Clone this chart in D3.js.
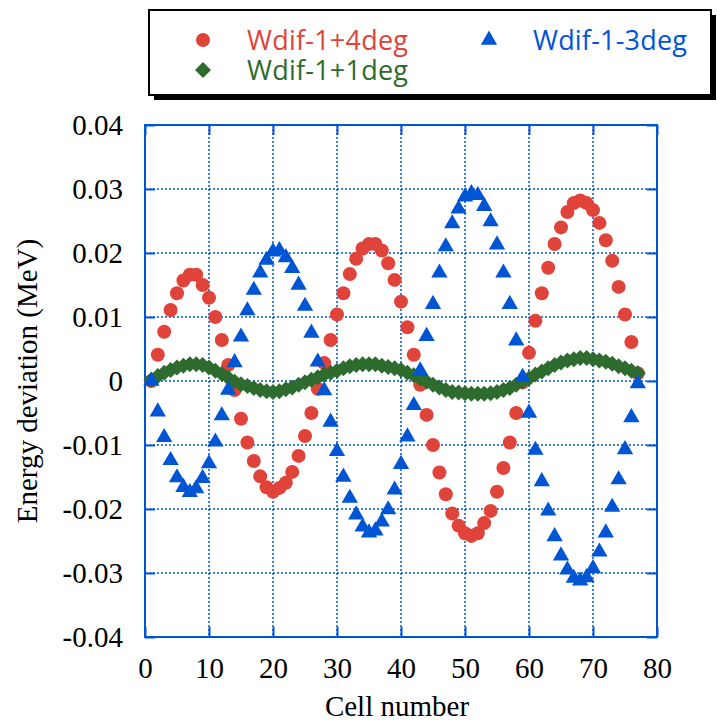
<!DOCTYPE html>
<html><head><meta charset="utf-8">
<script src="https://cdn.jsdelivr.net/npm/d3@7/dist/d3.min.js"></script>
<style>body{margin:0;background:#fff}svg{display:block}</style>
</head><body>
<svg id="c" width="717" height="722"></svg>
<script>
const cells = [1,2,3,4,5,6,7,8,9,10,11,12,13,14,15,16,17,18,19,20,21,22,23,24,25,26,27,28,29,30,31,32,33,34,35,36,37,38,39,40,41,42,43,44,45,46,47,48,49,50,51,52,53,54,55,56,57,58,59,60,61,62,63,64,65,66,67,68,69,70,71,72,73,74,75,76,77];
const plus4 = [0.0000,0.0041,0.0077,0.0111,0.0137,0.0157,0.0166,0.0166,0.0150,0.0130,0.0100,0.0064,0.0025,-0.0014,-0.0059,-0.0096,-0.0125,-0.0149,-0.0166,-0.0173,-0.0167,-0.0159,-0.0142,-0.0117,-0.0086,-0.0050,-0.0012,0.0028,0.0064,0.0104,0.0137,0.0167,0.0191,0.0207,0.0214,0.0214,0.0204,0.0184,0.0158,0.0124,0.0084,0.0041,-0.0006,-0.0053,-0.0100,-0.0143,-0.0177,-0.0207,-0.0226,-0.0238,-0.0242,-0.0238,-0.0222,-0.0203,-0.0173,-0.0136,-0.0096,-0.0050,-0.0002,0.0044,0.0094,0.0137,0.0177,0.0214,0.0240,0.0264,0.0278,0.0282,0.0278,0.0267,0.0247,0.0220,0.0188,0.0147,0.0104,0.0061,0.0012];
const plus1 = [0.0002,0.0008,0.0013,0.0017,0.0021,0.0024,0.0026,0.0026,0.0025,0.0021,0.0016,0.0011,0.0005,-0.0001,-0.0005,-0.0008,-0.0011,-0.0014,-0.0016,-0.0017,-0.0016,-0.0013,-0.0010,-0.0006,-0.0002,0.0002,0.0006,0.0010,0.0013,0.0016,0.0020,0.0023,0.0025,0.0026,0.0026,0.0026,0.0024,0.0022,0.0020,0.0017,0.0013,0.0009,0.0004,-0.0001,-0.0006,-0.0010,-0.0014,-0.0017,-0.0018,-0.0019,-0.0020,-0.0020,-0.0020,-0.0019,-0.0017,-0.0014,-0.0011,-0.0006,-0.0001,0.0004,0.0010,0.0015,0.0020,0.0025,0.0029,0.0032,0.0034,0.0036,0.0036,0.0034,0.0032,0.0030,0.0027,0.0023,0.0020,0.0016,0.0012];
const minus3 = [0.0000,-0.0048,-0.0088,-0.0124,-0.0151,-0.0166,-0.0174,-0.0168,-0.0152,-0.0129,-0.0095,-0.0054,-0.0014,0.0029,0.0069,0.0110,0.0142,0.0169,0.0189,0.0202,0.0204,0.0193,0.0176,0.0150,0.0117,0.0075,0.0030,-0.0015,-0.0064,-0.0110,-0.0150,-0.0183,-0.0209,-0.0228,-0.0237,-0.0234,-0.0220,-0.0201,-0.0170,-0.0130,-0.0087,-0.0038,0.0016,0.0070,0.0120,0.0169,0.0210,0.0246,0.0269,0.0288,0.0293,0.0290,0.0273,0.0249,0.0213,0.0169,0.0120,0.0063,0.0006,-0.0050,-0.0108,-0.0157,-0.0203,-0.0243,-0.0273,-0.0295,-0.0308,-0.0312,-0.0307,-0.0293,-0.0267,-0.0237,-0.0197,-0.0154,-0.0107,-0.0057,-0.0004];
const seriesNames = ["Wdif-1+4deg","Wdif-1+1deg","Wdif-1-3deg"];
const xTicks = [0,10,20,30,40,50,60,70,80];
const yTicks = [-0.04,-0.03,-0.02,-0.01,0,0.01,0.02,0.03,0.04];
const yTickLabels = ["-0.04","-0.03","-0.02","-0.01","0","0.01","0.02","0.03","0.04"];
const xTitle = "Cell number";
const yTitle = "Energy deviation (MeV)";

const RED = "#e0433a", GREEN = "#2e6b2e", BLUE = "#0055d4", AX = "#0055d4";
const L = 145, R = 657, T = 125, B = 637;
const svg = d3.select("#c");
const x = d3.scaleLinear().domain([0, 80]).range([L, R]);
const y = d3.scaleLinear().domain([-0.04, 0.04]).range([B, T]);

// grid
const grid = svg.append("g");
grid.selectAll(".gx").data(xTicks.slice(1, -1)).join("line")
  .attr("x1", d => x(d)).attr("x2", d => x(d)).attr("y1", T).attr("y2", B)
  .attr("stroke", AX).attr("stroke-width", 1.5).attr("stroke-dasharray", "2,2");
grid.selectAll(".gy").data(yTicks.slice(1, -1)).join("line")
  .attr("y1", d => y(d)).attr("y2", d => y(d)).attr("x1", L).attr("x2", R)
  .attr("stroke", AX).attr("stroke-width", 1.5).attr("stroke-dasharray", "2,2");

// axes with inward ticks on all sides
const tk = 10;
const fmtY = (d) => yTickLabels[yTicks.indexOf(d)];
const axB = svg.append("g").attr("transform", `translate(0,${B})`)
  .call(d3.axisBottom(x).tickValues(xTicks).tickSize(-tk).tickPadding(20).tickFormat(d3.format("d")));
const axT = svg.append("g").attr("transform", `translate(0,${T})`)
  .call(d3.axisTop(x).tickValues(xTicks).tickSize(-tk).tickFormat(""));
const axL = svg.append("g").attr("transform", `translate(${L},0)`)
  .call(d3.axisLeft(y).tickValues(yTicks).tickSize(-tk).tickPadding(22).tickFormat(fmtY));
const axR = svg.append("g").attr("transform", `translate(${R},0)`)
  .call(d3.axisRight(y).tickValues(yTicks).tickSize(-tk).tickFormat(""));
[axB, axT, axL, axR].forEach(a => {
  a.select(".domain").remove();
  a.selectAll(".tick line").attr("stroke", AX).attr("stroke-width", 2);
  a.selectAll(".tick text").attr("fill", "#000").style("font-family", "'Liberation Serif','Times New Roman',serif").style("font-size", "29px");
});
axB.selectAll(".tick text").attr("dy", "0.71em");
svg.append("rect").attr("x", L).attr("y", T).attr("width", R - L).attr("height", B - T)
  .attr("fill", "none").attr("stroke", AX).attr("stroke-width", 2);

// titles
svg.append("text").attr("x", (L + R) / 2 - 4).attr("y", 716).attr("text-anchor", "middle")
  .style("font-family", "'Liberation Serif','Times New Roman',serif").style("font-size", "29px").text(xTitle);
svg.append("text").attr("transform", `translate(37,${(T + B) / 2}) rotate(-90)`).attr("text-anchor", "middle")
  .style("font-family", "'Liberation Serif','Times New Roman',serif").style("font-size", "29px").text(yTitle);

// markers
const triPath = d3.symbol().type(d3.symbolTriangle).size(115)();
const diaPath = "M0,-8L8,0L0,8L-8,0Z";
const data = cells.map((c, i) => ({c, a: plus4[i], g: plus1[i], b: minus3[i]}));
const plot = svg.append("g");
plot.selectAll(".r").data(data).join("circle")
  .attr("cx", d => x(d.c)).attr("cy", d => y(d.a)).attr("r", 7).attr("fill", RED);
plot.selectAll(".g").data(data).join("path")
  .attr("d", diaPath).attr("transform", d => `translate(${x(d.c)},${y(d.g)})`).attr("fill", GREEN);
plot.selectAll(".b").data(data).join("path")
  .attr("d", triPath).attr("transform", d => `translate(${x(d.c)},${y(d.b)})`).attr("fill", BLUE);

// legend
const lg = svg.append("g");
lg.append("rect").attr("x", 154).attr("y", 15).attr("width", 562).attr("height", 85).attr("fill", "#000");
lg.append("rect").attr("x", 149).attr("y", 10).attr("width", 562).attr("height", 85)
  .attr("fill", "#fff").attr("stroke", "#000").attr("stroke-width", 2);
const lf = "'Open Sans', Roboto, sans-serif";
lg.append("circle").attr("cx", 203).attr("cy", 40).attr("r", 7).attr("fill", RED);
lg.append("text").attr("x", 247).attr("y", 50).attr("fill", RED).attr("textLength", 161).style("font-family", lf).style("font-size", "27px").text(seriesNames[0]);
lg.append("path").attr("d", diaPath).attr("transform", "translate(203,70)").attr("fill", GREEN);
lg.append("text").attr("x", 247).attr("y", 80).attr("fill", GREEN).attr("textLength", 161).style("font-family", lf).style("font-size", "27px").text(seriesNames[1]);
lg.append("path").attr("d", triPath).attr("transform", "translate(489,40)").attr("fill", BLUE);
lg.append("text").attr("x", 533).attr("y", 50).attr("fill", BLUE).attr("textLength", 154).style("font-family", lf).style("font-size", "27px").text(seriesNames[2]);
</script>
</body></html>
